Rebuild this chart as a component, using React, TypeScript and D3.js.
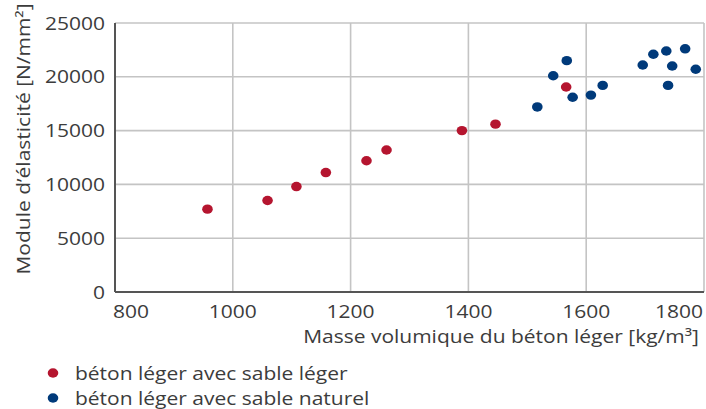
import React from "react";
import * as d3 from "d3";

const lightX = [957, 1059, 1108, 1158, 1227, 1261, 1389, 1446, 1566];
const lightY = [7700, 8500, 9800, 11100, 12200, 13200, 15000, 15600, 19050];
const naturalX = [1517, 1544, 1567, 1577, 1608, 1628, 1696, 1714, 1736, 1746, 1739, 1768, 1786];
const naturalY = [17200, 20100, 21500, 18100, 18300, 19200, 21100, 22100, 22400, 21000, 19200, 22600, 20700];
const xTicks = [800, 1000, 1200, 1400, 1600, 1800];
const yTicks = [0, 5000, 10000, 15000, 20000, 25000];
const seriesNames = ["béton léger avec sable léger", "béton léger avec sable naturel"];
const seriesColors = ["#b5152f", "#003a7a"];

const W = 706, H = 409;
const L = 115, R = 704, T = 23, B = 292;
const FONT = "'Open Sans', sans-serif";
const TXT = "#3c3c3c";
const SX = 1.2;

export default function App() {
  const x = d3.scaleLinear().domain([800, 1800]).range([L, R]);
  const y = d3.scaleLinear().domain([0, 25000]).range([B, T]);
  const series = [
    d3.zip(lightX, lightY),
    d3.zip(naturalX, naturalY),
  ];
  const last = xTicks.length - 1;
  return (
    <svg width={W} height={H} style={{ position: "absolute", left: 0, top: 0 }} fontFamily={FONT}>
      <rect width={W} height={H} fill="#fff" />
      {xTicks.map((t) => (
        <line key={"gx" + t} x1={x(t)} x2={x(t)} y1={T} y2={B} stroke="#c4c4c4" strokeWidth={1.6} />
      ))}
      {yTicks.map((t) => (
        <line key={"gy" + t} x1={L} x2={R} y1={y(t)} y2={y(t)} stroke="#c4c4c4" strokeWidth={1.6} />
      ))}
      <line x1={L} x2={L} y1={T} y2={B} stroke="#555" strokeWidth={2} />
      <line x1={L} x2={R} y1={B} y2={B} stroke="#555" strokeWidth={2} />
      {yTicks.map((t) => (
        <text key={"ty" + t} transform={`translate(105,${y(t) + 6.5}) scale(${SX},1)`} textAnchor="end" fontSize={17.5} fill={TXT}>
          {t}
        </text>
      ))}
      {xTicks.map((t, i) => {
        const anchor = i === 0 ? "start" : i === last ? "end" : "middle";
        const px = i === 0 ? x(t) - 2 : i === last ? x(t) - 1 : x(t);
        return (
          <text key={"tx" + t} transform={`translate(${px},${B + 26}) scale(${SX},1)`} textAnchor={anchor} fontSize={17.5} fill={TXT}>
            {t}
          </text>
        );
      })}
      <text transform={`translate(501,343) scale(${SX},1)`} textAnchor="middle" fontSize={17.5} fill={TXT}>
        Masse volumique du béton léger [kg/m³]
      </text>
      <text transform={`translate(30,139) rotate(-90) scale(${SX},1)`} textAnchor="middle" fontSize={17.5} fill={TXT}>
        Module d’élasticité [N/mm²]
      </text>
      {series.map((pts, i) =>
        pts.map(([vx, vy], j) => (
          <ellipse key={`p${i}-${j}`} cx={x(vx)} cy={y(vy)} rx={5.3} ry={4.7} fill={seriesColors[i]} />
        ))
      )}
      {seriesNames.map((n, i) => (
        <g key={n}>
          <ellipse cx={53} cy={373 + i * 25} rx={5.3} ry={4.7} fill={seriesColors[i]} />
          <text transform={`translate(75,${379.5 + i * 25}) scale(${SX},1)`} fontSize={17.5} fill={TXT}>
            {n}
          </text>
        </g>
      ))}
    </svg>
  );
}
